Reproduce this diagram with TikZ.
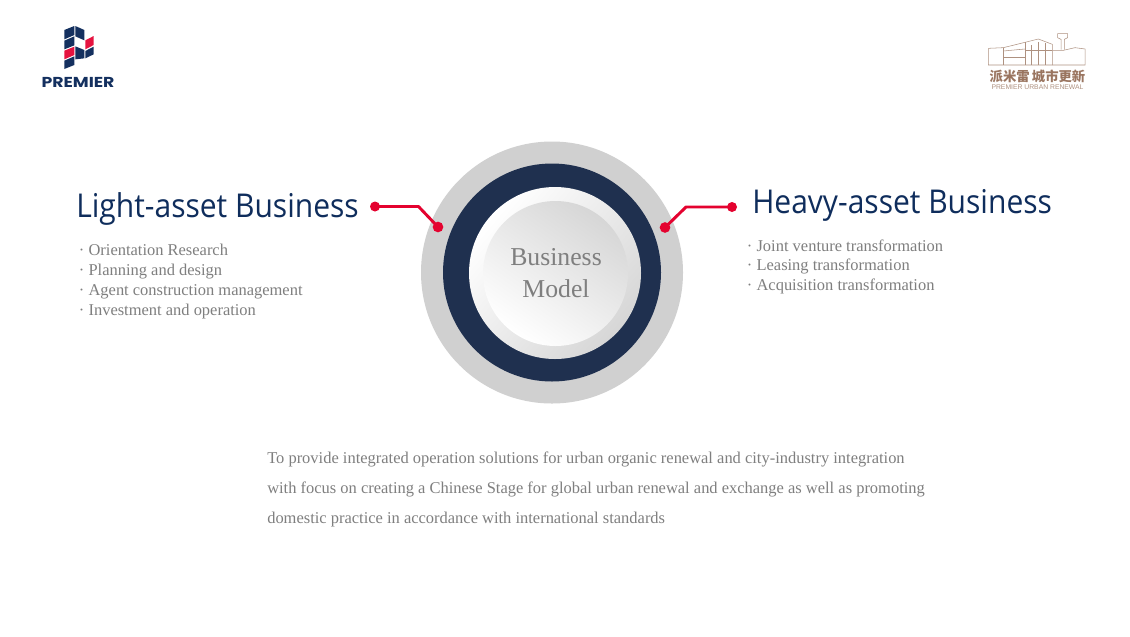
\documentclass[tikz,border=0pt]{standalone}
\usepackage{fontspec}
\setmainfont{Liberation Serif}
\newfontfamily\headfont[FakeStretch=0.915]{Open Sans}
\newfontfamily\logofont{Liberation Sans}
\newfontfamily\markfont[FakeStretch=1.2]{Poppins}
\newfontfamily\cjkfont{Noto Sans CJK SC}
\definecolor{navy}{HTML}{1F304F}
\definecolor{headblue}{HTML}{0F2D5C}
\definecolor{logoblue}{HTML}{14305F}
\definecolor{logored}{HTML}{E5133F}
\definecolor{accent}{HTML}{E4022F}
\definecolor{ringgray}{HTML}{D0D0D0}
\definecolor{bodygray}{HTML}{7F7F7F}
\definecolor{brownlogo}{HTML}{9A7560}
\tikzset{
  px/.style={x=0.75pt,y=-0.75pt},
  heading/.style={font=\headfont\fontsize{24.6}{30}\selectfont,text=headblue,anchor=base west,inner sep=0pt},
  bullets/.style={font=\fontsize{12.35}{15}\selectfont,text=bodygray,anchor=base west,inner sep=0pt},
  para/.style={font=\fontsize{12.35}{15}\selectfont,text=bodygray,anchor=base west,inner sep=0pt},
  centertext/.style={font=\fontsize{19.3}{23.4}\selectfont,text=bodygray,inner sep=0pt},
  connector/.style={draw=accent,line width=2.2pt,line join=round},
  dot/.style={circle,fill=accent,minimum size=7.5pt,inner sep=0pt},
  bigdot/.style={circle,fill=accent,minimum size=8pt,inner sep=0pt},
  lb/.style={fill=logoblue},
  lr/.style={fill=logored},
  brown/.style={draw=brownlogo!80!white,line width=0.4pt},
}
\begin{document}
\begin{tikzpicture}[px]
\useasboundingbox[fill=white] (0,0) rectangle (1130,636);
% rings
\fill[ringgray] (552,272.5) circle[radius=131];
\fill[navy] (552,272.5) circle[radius=109];
\shade[shading=axis,top color=white,bottom color=white!84!black,shading angle=50] (555,273) circle[radius=86];
\shade[shading=axis,top color=white!84!black,bottom color=white,shading angle=-35] (555.5,273.5) circle[radius=72.5];
\node[centertext,align=center] (center) at (556,273) {Business\\Model};
% left heading
\node[heading] (lighthead) at (76,217) {Light-asset Business};
\node[bullets] (l1) at (78.7,255) {· Orientation Research};
\node[bullets] (l2) at (78.7,275) {· Planning and design};
\node[bullets] (l3) at (78.7,295) {· Agent construction management};
\node[bullets] (l4) at (78.7,315) {· Investment and operation};
% right heading
\node[heading] (heavyhead) at (752,213) {Heavy-asset Business};
\node[bullets] (r1) at (746.7,251) {· Joint venture transformation};
\node[bullets] (r2) at (746.7,270) {· Leasing transformation};
\node[bullets] (r3) at (746.7,290) {· Acquisition transformation};
% connectors
\node[dot] (la) at (375,206.5) {};
\node[bigdot] (lb) at (438,227) {};
\coordinate (lk) at (418.5,206.5);
\draw[connector] (la.center) -- (lk) -- (lb.center);
\node[dot] (ra) at (732,207) {};
\node[bigdot] (rb) at (665,227.5) {};
\coordinate (rk) at (686,207);
\draw[connector] (ra.center) -- (rk) -- (rb.center);
% paragraph
\node[para] (p1) at (267,463) {To provide integrated operation solutions for urban organic renewal and city-industry integration};
\node[para] (p2) at (267,493) {with focus on creating a Chinese Stage for global urban renewal and exchange as well as promoting};
\node[para] (p3) at (267,523) {domestic practice in accordance with international standards};
% left logo
\begin{scope}[shift={(30,15)},x=0.25pt,y=-0.25pt]
\fill[lb] (103,45) -- (133,33) -- (133,60) -- (103,73) -- cycle;
\fill[lb] (103,77) -- (133,64) -- (133,91) -- (103,103) -- cycle;
\fill[lr] (103,107) -- (133,95) -- (133,120) -- (103,133) -- cycle;
\fill[lb] (103,137) -- (133,124) -- (133,150) -- (103,162) -- cycle;
\fill[lb] (136,33) -- (163,45) -- (163,76) -- (136,64) -- cycle;
\fill[lb] (136,94) -- (163,105) -- (163,130) -- (136,133) -- cycle;
\fill[lr] (166,76) -- (191,63) -- (191,90) -- (166,103) -- cycle;
\fill[lb] (166,108) -- (191,95) -- (191,118) -- (166,130) -- cycle;
\end{scope}
\node[font=\markfont\bfseries\fontsize{10.8}{12}\selectfont,text=logoblue,inner sep=0pt] (premier) at (78,82) {PREMIER};
% right logo
\begin{scope}[shift={(975,25)},x=0.25pt,y=-0.25pt]
\draw[brown] (40,70) -- (85,68) -- (150,52) -- (190,42) -- (232,58) -- (232,120);
\draw[brown] (85,68) -- (85,120);
\draw[brown] (150,52) -- (150,120);
\draw[brown] (40,70) -- (40,120) -- (330,120) -- (330,72) -- (300,68) -- (265,76) -- (232,76);
\draw[brown] (85,78) -- (150,72);
\draw[brown] (85,98) -- (150,98);
\draw[brown] (170,60) -- (170,120);
\draw[brown] (190,52) -- (190,120);
\draw[brown] (210,55) -- (210,120);
\draw[brown] (150,75) -- (232,75);
\draw[brown] (248,26) -- (278,26) -- (278,38) -- (268,43) -- (268,74);
\draw[brown] (248,26) -- (248,38) -- (258,43) -- (258,74);
\end{scope}
\node[font=\cjkfont\bfseries\fontsize{10}{12}\selectfont,text=brownlogo,inner sep=0pt] (cjklogo) at (1037.5,76) {派米雷\,城市更新};
\node[font=\logofont\fontsize{5.1}{6}\selectfont,text=brownlogo!80!white,inner sep=0pt] (urban) at (1037.5,87.5) {PREMIER URBAN RENEWAL};
\end{tikzpicture}
\end{document}
